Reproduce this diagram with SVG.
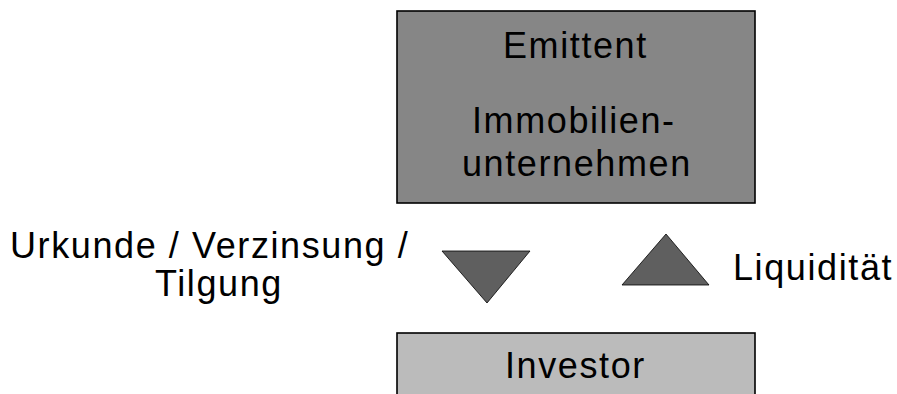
<svg xmlns="http://www.w3.org/2000/svg" width="897" height="394" viewBox="0 0 897 394">
  <style>
    .box { stroke: #000; stroke-width: 1.6; }
    .issuer { fill: #868686; }
    .investor { fill: #bbbbbb; }
    .flow { fill: #5f5f5f; stroke: #000; stroke-width: 0.8; }
    .lbl { font-family: "Liberation Sans", Arial, sans-serif; font-size: 36px; letter-spacing: 1.6px; fill: #000; }
  </style>
  <rect width="897" height="394" fill="#fff"/>

  <g id="emittent">
    <rect class="box issuer" x="397" y="11" width="358" height="192"/>
    <text class="lbl" x="503" y="58">Emittent</text>
    <text class="lbl" x="472" y="133">Immobilien-</text>
    <text class="lbl" x="462" y="176">unternehmen</text>
  </g>

  <g id="investor">
    <rect class="box investor" x="397" y="333" width="358" height="70"/>
    <text class="lbl" x="505" y="378">Investor</text>
  </g>

  <g id="connectors">
    <polygon class="flow" points="442,251 530,251 487,303"/>
    <polygon class="flow" points="666,234 622,285 709,285"/>
  </g>

  <g id="labels">
    <text class="lbl" x="10" y="258">Urkunde / Verzinsung /</text>
    <text class="lbl" x="155" y="296">Tilgung</text>
    <text class="lbl" x="733" y="280">Liquidität</text>
  </g>
</svg>
